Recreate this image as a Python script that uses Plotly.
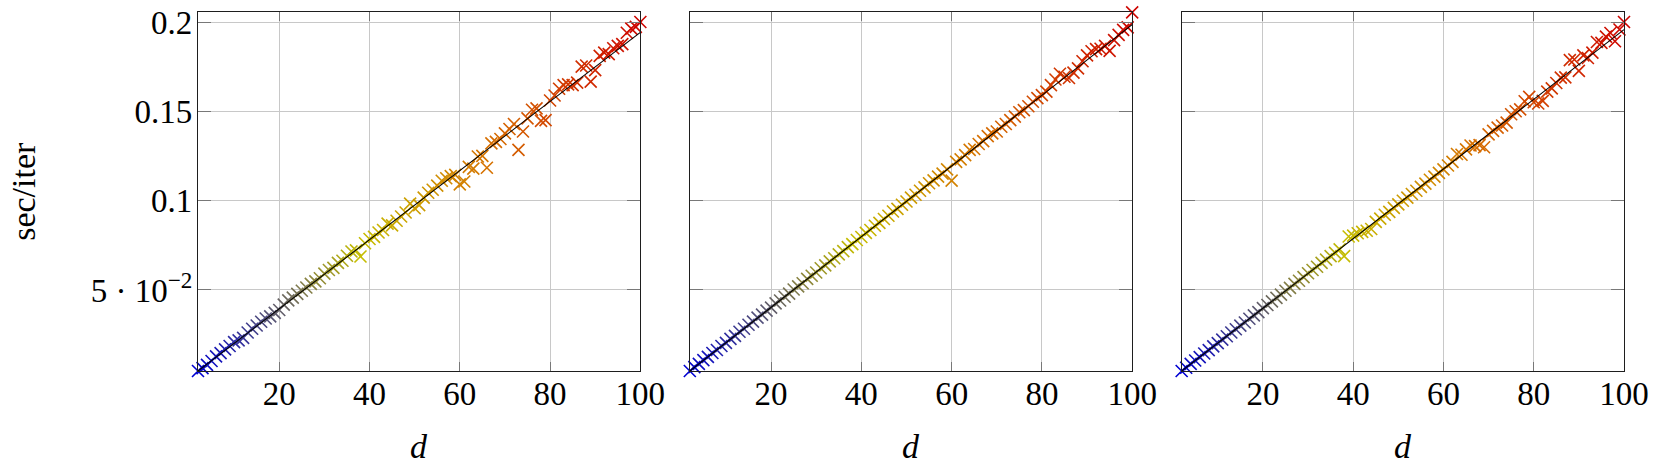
import plotly.graph_objects as go
from plotly.subplots import make_subplots

# problem dimension d = 2..100
d_vals = list(range(2, 101))

run_a = [
    0.0046, 0.0062, 0.0080, 0.0102, 0.0128, 0.0146, 0.0167, 0.0186, 0.0208, 0.0218,
    0.0232, 0.0262, 0.0283, 0.0301, 0.0322, 0.0340, 0.0352, 0.0372, 0.0388, 0.0418,
    0.0442, 0.0457, 0.0478, 0.0496, 0.0514, 0.0534, 0.0548, 0.0566, 0.0592, 0.0612,
    0.0624, 0.0652, 0.0664, 0.0692, 0.0716, 0.0722, 0.0688, 0.0762, 0.0786, 0.0798,
    0.0822, 0.0836, 0.0872, 0.0862, 0.0888, 0.0912, 0.0934, 0.0984, 0.0958, 0.0976,
    0.1018, 0.1045, 0.1062, 0.1085, 0.1112, 0.1126, 0.1138, 0.1145, 0.1092, 0.1108,
    0.1190, 0.1180, 0.1248, 0.1252, 0.1185, 0.1322, 0.1330, 0.1346, 0.1378, 0.1402,
    0.1430, 0.1285, 0.1388, 0.1462, 0.1510, 0.1518, 0.1448, 0.1452, 0.1562, 0.1590,
    0.1628, 0.1648, 0.1652, 0.1648, 0.1662, 0.1752, 0.1758, 0.1668, 0.1732, 0.1812,
    0.1830, 0.1822, 0.1855, 0.1868, 0.1878, 0.1942, 0.1965, 0.1975, 0.2002,
]
run_b = [
    0.0046, 0.0068, 0.0086, 0.0107, 0.0125, 0.0147, 0.0164, 0.0186, 0.0204, 0.0226,
    0.0243, 0.0266, 0.0283, 0.0305, 0.0323, 0.0345, 0.0362, 0.0384, 0.0401, 0.0425,
    0.0441, 0.0462, 0.0480, 0.0503, 0.0520, 0.0538, 0.0562, 0.0580, 0.0598, 0.0622,
    0.0638, 0.0660, 0.0678, 0.0700, 0.0718, 0.0740, 0.0757, 0.0780, 0.0797, 0.0820,
    0.0836, 0.0860, 0.0876, 0.0898, 0.0916, 0.0940, 0.0955, 0.0978, 0.0996, 0.1018,
    0.1034, 0.1056, 0.1075, 0.1098, 0.1114, 0.1135, 0.1152, 0.1176, 0.1113, 0.1218,
    0.1232, 0.1256, 0.1285, 0.1290, 0.1318, 0.1334, 0.1362, 0.1378, 0.1388, 0.1415,
    0.1430, 0.1452, 0.1472, 0.1496, 0.1508, 0.1530, 0.1555, 0.1575, 0.1592, 0.1612,
    0.1648, 0.1680, 0.1712, 0.1695, 0.1688, 0.1718, 0.1742, 0.1782, 0.1815, 0.1838,
    0.1850, 0.1852, 0.1868, 0.1840, 0.1900, 0.1930, 0.1958, 0.1972, 0.2056,
]
run_c = [
    0.0046, 0.0064, 0.0086, 0.0105, 0.0124, 0.0144, 0.0163, 0.0184, 0.0202, 0.0222,
    0.0241, 0.0262, 0.0280, 0.0300, 0.0318, 0.0339, 0.0358, 0.0376, 0.0398, 0.0416,
    0.0436, 0.0456, 0.0474, 0.0496, 0.0512, 0.0534, 0.0552, 0.0572, 0.0594, 0.0612,
    0.0630, 0.0652, 0.0670, 0.0690, 0.0708, 0.0728, 0.0690, 0.0800, 0.0805, 0.0818,
    0.0826, 0.0832, 0.0842, 0.0882, 0.0900, 0.0922, 0.0938, 0.0960, 0.0980, 0.1000,
    0.1018, 0.1038, 0.1056, 0.1078, 0.1096, 0.1118, 0.1135, 0.1156, 0.1176, 0.1198,
    0.1218, 0.1262, 0.1258, 0.1288, 0.1310, 0.1306, 0.1312, 0.1300, 0.1372, 0.1392,
    0.1410, 0.1422, 0.1438, 0.1485, 0.1502, 0.1512, 0.1558, 0.1582, 0.1552, 0.1545,
    0.1560, 0.1612, 0.1630, 0.1660, 0.1690, 0.1692, 0.1788, 0.1792, 0.1728, 0.1815,
    0.1800, 0.1830, 0.1890, 0.1885, 0.1920, 0.1940, 0.1894, 0.1960, 0.2002,
]

# linear fits (endpoints)
fit_d = [2, 100]
fit_a = [0.0046, 0.1944]
fit_b = [0.0046, 0.1987]
fit_c = [0.0046, 0.1959]

x_ticks = [20, 40, 60, 80, 100]
y_ticks = [0.05, 0.1, 0.15, 0.2]
y_ticktext = ['5 · 10<sup>−2</sup>', '0.1', '0.15', '0.2']

cmap = [[0.0, 'rgb(0,0,210)'], [0.37, 'rgb(198,190,0)'],
        [0.66, 'rgb(214,112,0)'], [1.0, 'rgb(205,5,0)']]

FONT = 'Liberation Serif, Times New Roman, serif'

fig = make_subplots(rows=1, cols=3, horizontal_spacing=0.0347)

runs = [(run_a, fit_a), (run_b, fit_b), (run_c, fit_c)]
for i, (ys, fy) in enumerate(runs):
    col = i + 1
    fig.add_trace(go.Scatter(
        x=d_vals, y=ys, mode='markers', showlegend=False, cliponaxis=False,
        marker=dict(symbol='x-thin', size=12,
                    line=dict(width=1.6, color=d_vals, colorscale=cmap, cmin=2, cmax=100))),
        row=1, col=col)
    fig.add_trace(go.Scatter(
        x=fit_d, y=fy, mode='lines', showlegend=False,
        line=dict(color='black', width=1.1)), row=1, col=col)

    fig.update_xaxes(range=[2, 100], tickvals=x_ticks, showgrid=True, automargin=False,
                     gridcolor='rgb(200,200,200)', gridwidth=1,
                     showline=True, linecolor='rgb(30,30,30)', linewidth=1.3, mirror='ticks',
                     ticks='inside', ticklen=9, tickcolor='rgb(120,120,120)',
                     zeroline=False, tickfont=dict(family=FONT, size=33, color='black'),
                     ticklabelstandoff=-7,
                     row=1, col=col)
    fig.update_yaxes(range=[0.0046, 0.2058], tickvals=y_ticks, ticktext=y_ticktext,
                     showticklabels=(i == 0), showgrid=True, automargin=False,
                     gridcolor='rgb(200,200,200)', gridwidth=1,
                     showline=True, linecolor='rgb(30,30,30)', linewidth=1.3, mirror='ticks',
                     ticks='inside', ticklen=13, tickcolor='rgb(120,120,120)',
                     zeroline=False, tickfont=dict(family=FONT, size=33, color='black'),
                     ticklabelstandoff=-2,
                     row=1, col=col)

# axis titles as annotations
d_centers = [0.155, 0.5, 0.845]
for xc in d_centers:
    fig.add_annotation(text='<i>d</i>', xref='paper', yref='paper', x=xc, y=-0.209,
                       xanchor='center', yanchor='middle', showarrow=False,
                       font=dict(family=FONT, size=34, color='black'))
fig.add_annotation(text='sec/iter', xref='paper', yref='paper', x=-0.1225, y=0.5,
                   xanchor='center', yanchor='middle', textangle=-90, showarrow=False,
                   font=dict(family=FONT, size=34, color='black'))

fig.update_layout(width=1662, height=467, plot_bgcolor='white', paper_bgcolor='white',
                  margin=dict(l=198, r=38, t=12, b=96, autoexpand=False))

# drop the default page margin so the figure sits at the window's corner
fig.write_html('out.html', config={'displayModeBar': False},
               post_script="document.body.style.margin='0';document.body.style.overflow='hidden';")
